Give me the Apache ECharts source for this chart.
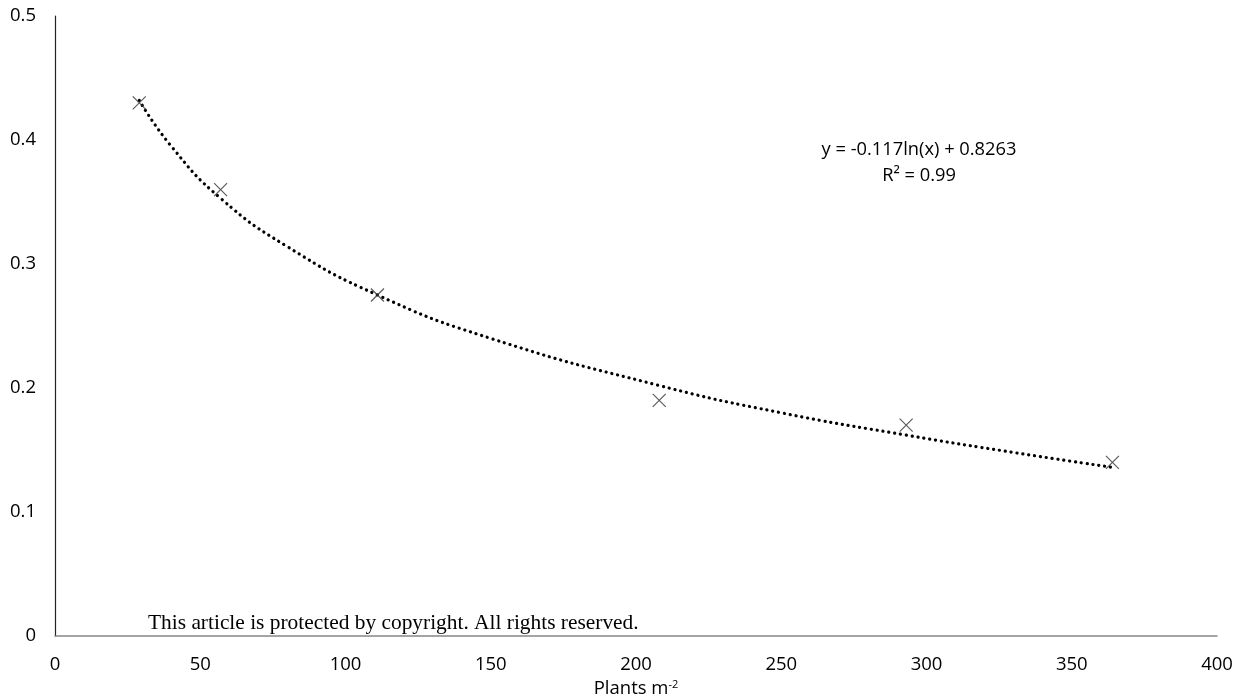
<!DOCTYPE html>
<html>
<head>
<meta charset="utf-8">
<script src="https://cdn.jsdelivr.net/npm/echarts@6/dist/echarts.min.js"></script>
<style>html,body{margin:0;padding:0;background:#fff;}#c{width:1238px;height:696px;}</style>
</head>
<body>
<div id="c"></div>
<script>
// Observed points
const plantsX = [29, 57, 111, 208, 293, 364];
const valuesY = [0.43, 0.36, 0.275, 0.19, 0.17, 0.14];
// Trendline (log fit) points as drawn
const trendX = [29, 40, 57, 80, 111, 150, 208, 250, 293, 330, 364];
const trendY = [0.432, 0.395, 0.353, 0.314, 0.275, 0.240, 0.202, 0.180, 0.162, 0.148, 0.136];
const xTicks = [0, 50, 100, 150, 200, 250, 300, 350, 400];
const yTicks = [0, 0.1, 0.2, 0.3, 0.4, 0.5];
const equationText = 'y = -0.117ln(x) + 0.8263';
const r2Text = 'R² = 0.99';
const copyrightText = 'This article is protected by copyright. All rights reserved.';

const chart = echarts.init(document.getElementById('c'));
const font = '"Open Sans", "DejaVu Sans", sans-serif';
chart.setOption({
  animation: false,
  backgroundColor: '#fff',
  grid: { left: 55, right: 21, top: 16, bottom: 60, containLabel: false, outerBoundsMode: 'none' },
  xAxis: {
    type: 'value', min: xTicks[0], max: xTicks[xTicks.length - 1], interval: 50,
    axisLine: { show: true, lineStyle: { color: '#868686', width: 1.5 } },
    axisTick: { show: false },
    splitLine: { show: false },
    axisLabel: { color: '#000', fontSize: 18.5, fontFamily: font, margin: 19 },
    name: '{a|Plants m}{s|-2}',
    nameLocation: 'middle', nameGap: 32,
    nameTextStyle: {
      rich: {
        a: { fontSize: 18.5, fontFamily: font, color: '#000' },
        s: { fontSize: 11, fontFamily: font, color: '#000', verticalAlign: 'top', padding: [0, 0, 9, 0] }
      }
    }
  },
  yAxis: {
    type: 'value', min: yTicks[0], max: yTicks[yTicks.length - 1], interval: 0.1,
    axisLine: { show: true, lineStyle: { color: '#222', width: 1.2 } },
    axisTick: { show: false },
    splitLine: { show: false },
    axisLabel: { color: '#000', fontSize: 18.5, fontFamily: font, margin: 19 }
  },
  series: [
    {
      type: 'line',
      data: trendX.map((x, i) => [x, trendY[i]]),
      smooth: true,
      showSymbol: false,
      symbol: 'none',
      lineStyle: { color: '#000', width: 3.2, type: [0.1, 5.8], cap: 'round' },
      z: 2
    },
    {
      type: 'scatter',
      data: plantsX.map((x, i) => [x, valuesY[i]]),
      symbol: 'path://M0,0L10,10M10,0L0,10',
      symbolSize: 13,
      itemStyle: { color: 'rgba(0,0,0,0)', borderColor: '#333', borderWidth: 1.2 },
      z: 3
    }
  ],
  graphic: [
    {
      type: 'text', left: 148, top: 613,
      style: { text: copyrightText, font: '21.4px "Liberation Serif", "Times New Roman", serif', fill: '#000' }
    },
    {
      type: 'text', x: 919, y: 150,
      style: { text: equationText, font: '18.3px ' + font, fill: '#000', align: 'center', verticalAlign: 'middle' }
    },
    {
      type: 'text', x: 919, y: 176,
      style: { text: r2Text, font: '18.3px ' + font, fill: '#000', align: 'center', verticalAlign: 'middle' }
    }
  ]
});
</script>
</body>
</html>
